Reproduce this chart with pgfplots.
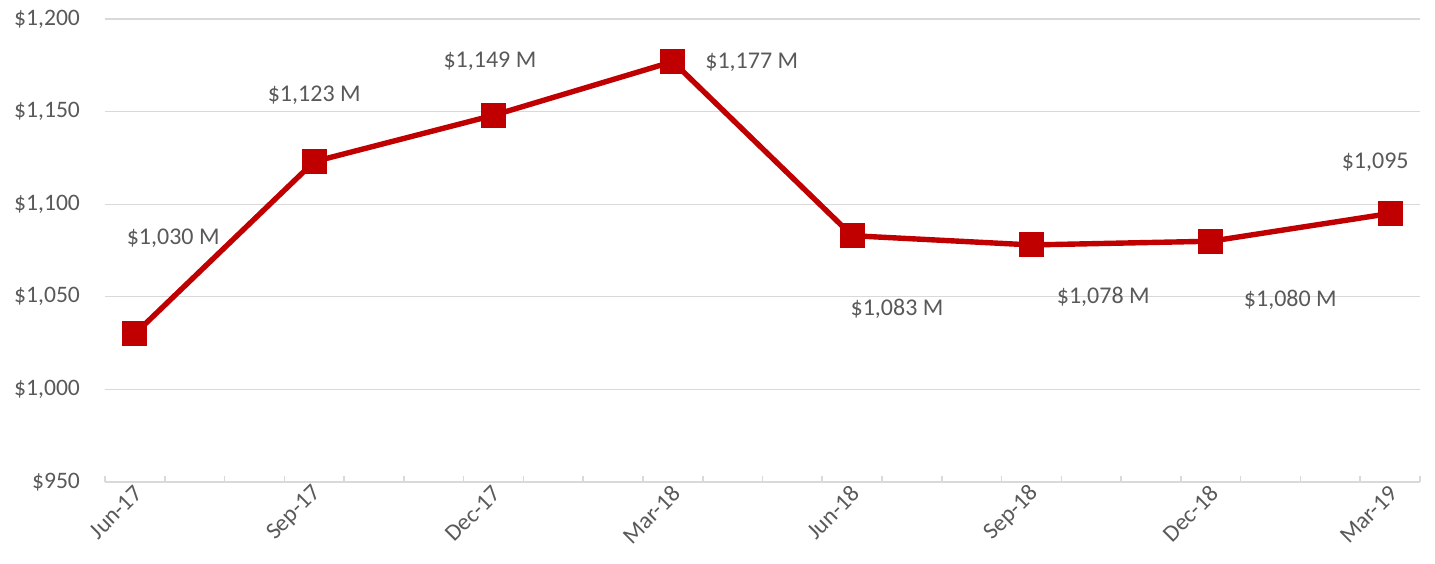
\documentclass[border=0pt]{standalone}
\usepackage{pgfplots}
\pgfplotsset{compat=1.18}
\usepackage{fontspec}
\setmainfont{Carlito}
\definecolor{linec}{HTML}{C00000}
\definecolor{gridc}{HTML}{D9D9D9}
\definecolor{txtc}{HTML}{595959}
\begin{document}
\begin{tikzpicture}
\begin{axis}[
 at={(0,0)}, anchor=south west,
 scale only axis, width=657.5pt, height=231.5pt,
 xmin=-0.5, xmax=21.5, ymin=950, ymax=1200,
 axis x line*=bottom, axis y line*=left,
 y axis line style={draw=none},
 x axis line style={draw=gridc, line width=1.2pt, -},
 ymajorgrids, grid style={gridc, line width=0.6pt},
 xtick={0,3,...,21},
 xticklabels={Jun-17,Sep-17,Dec-17,Mar-18,Jun-18,Sep-18,Dec-18,Mar-19},
 minor xtick={-0.5,0.5,...,21.5},
 major tick length=0pt, minor tick length=3pt, tick align=inside,
 minor tick style={gridc, line width=0.8pt},
 ytick={950,1000,...,1200},
 yticklabels={\$950,{\$1,000},{\$1,050},{\$1,100},{\$1,150},{\$1,200}},
 ytick style={draw=none},
 ticklabel style={font=\fontsize{11.8}{13}\selectfont, text=txtc},
 yticklabel style={xshift=-9pt},
 xticklabel style={rotate=45, anchor=east, yshift=-4pt, xshift=2pt},
 clip=false,
]
\addplot[linec, line width=2.7pt, mark=square*, mark size=6pt, mark options={fill=linec, draw=linec, line width=0pt}]
 coordinates {(0,1030) (3,1123) (6,1148) (9,1177) (12,1083) (15,1078) (18,1080) (21,1095)};
\begin{scope}[every node/.style={font=\fontsize{12}{14}\selectfont, text=txtc}]
\node at (axis cs:0.64,1081.7) {\$1,030 M};
\node at (axis cs:3.0,1159) {\$1,123 M};
\node at (axis cs:5.94,1177.3) {\$1,149 M};
\node at (axis cs:10.32,1176.8) {\$1,177 M};
\node at (axis cs:12.75,1043.4) {\$1,083 M};
\node at (axis cs:16.2,1049.9) {\$1,078 M};
\node at (axis cs:19.33,1048.3) {\$1,080 M};
\node at (axis cs:20.75,1122.8) {\$1,095};
\end{scope}
\end{axis}
\pgfresetboundingbox
\useasboundingbox (-52.5pt,-40.5pt) rectangle (665pt,241pt);
\end{tikzpicture}
\end{document}
